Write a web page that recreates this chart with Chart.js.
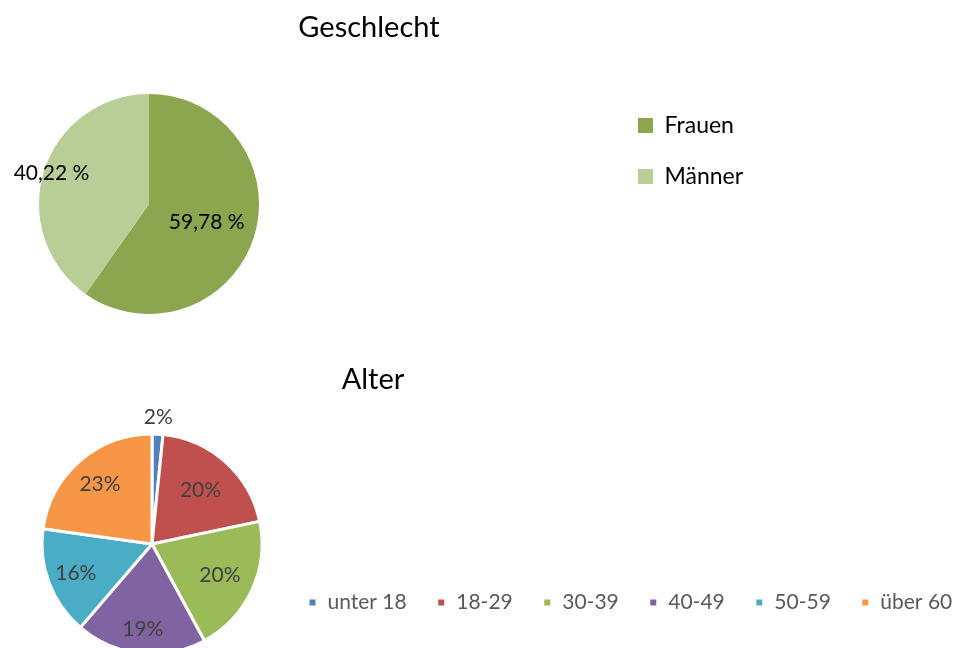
<!DOCTYPE html>
<html>
<head>
<meta charset="utf-8">
<script src="https://cdn.jsdelivr.net/npm/chart.js@4.4.1/dist/chart.umd.min.js"></script>
<style>
  body { margin: 0; background: #fff; }
  canvas { position: absolute; left: 0; }
</style>
</head>
<body>
<canvas id="geschlecht" width="961" height="340" style="top:0"></canvas>
<canvas id="alter" width="961" height="308" style="top:340px"></canvas>
<script>

// Daten
var geschlechtLabels = ['Frauen', 'Männer'];
var geschlechtWerte = [59.78, 40.22];
var geschlechtFarben = ['#8ba64f', '#b9cd96'];

var alterLabels = ['unter 18', '18-29', '30-39', '40-49', '50-59', 'über 60'];
var alterWerte = [1.6, 20.1, 20.4, 19.2, 15.9, 22.8];
var alterFarben = ['#4f81bd', '#c0504d', '#9bbb59', '#8064a2', '#4bacc6', '#f79646'];

Chart.defaults.font.family = 'Lato';
Chart.defaults.animation = false;


// setzt Titel, Legende und Kreis an feste Stellen wie im Excel-Bild
function platzierung (titel, legende, kreis, rand) {
    return {
        id: 'platzierung',
        afterLayout: function (chart) {
            var t = chart.titleBlock;
            var h = t.height;
            t.left = titel[0] - 200;
            t.right = titel[0] + 200;
            t.width = 400;
            t.top = titel[1] - h / 2;
            t.bottom = t.top + h;

            var l = chart.legend;
            var lw = l.width, lh = l.height;
            l.left = legende[0];
            l.top = legende[1];
            l.right = l.left + lw;
            l.bottom = l.top + lh;

            var r = kreis[2] + rand / 2;
            chart.chartArea = {
                left: kreis[0] - r, top: kreis[1] - r,
                right: kreis[0] + r, bottom: kreis[1] + r,
                width: 2 * r, height: 2 * r
            };
        }
    };
}


function beschriftung (abstaende, format, farbe) {
    return {
        id: 'beschriftung',
        afterDatasetsDraw: function (chart) {
            var ctx = chart.ctx;
            var meta = chart.getDatasetMeta(0);
            var werte = chart.data.datasets[0].data;
            var summe = werte.reduce(function (a, b) { return a + b; }, 0);
            ctx.save();
            ctx.font = '21px Lato';
            ctx.fillStyle = farbe;
            ctx.textAlign = 'center';
            ctx.textBaseline = 'middle';
            meta.data.forEach(function (arc, i) {
                var p = arc.getProps(['x', 'y', 'startAngle', 'endAngle', 'outerRadius'], true);
                var mitte = (p.startAngle + p.endAngle) / 2;
                var abstand = p.outerRadius * abstaende[i];
                var text;
                if (format == 'dezimal') {
                    text = werte[i].toFixed(2).replace('.', ',') + ' %';
                } else {
                    text = Math.round(werte[i] / summe * 100) + '%';
                }
                ctx.fillText(text, p.x + Math.cos(mitte) * abstand, p.y + Math.sin(mitte) * abstand);
            });
            ctx.restore();
        }
    };
}


var geschlechtChart = new Chart(document.getElementById('geschlecht'), {
    type: 'pie',
    data: {
        labels: geschlechtLabels,
        datasets: [{
            data: geschlechtWerte,
            backgroundColor: geschlechtFarben,
            borderWidth: 0,
            clip: false
        }]
    },
    options: {
        responsive: false,
        plugins: {
            tooltip: { enabled: false },
            title: {
                display: true,
                text: 'Geschlecht',
                color: '#000',
                padding: 0,
                font: { size: 29, weight: 'normal' }
            },
            legend: {
                position: 'right',
                align: 'start',
                labels: {
                    boxWidth: 15,
                    boxHeight: 15,
                    padding: 28,
                    color: '#000',
                    font: { size: 23 }
                }
            }
        }
    },
    plugins: [
        platzierung([369, 28], [610, 86], [149, 204, 110], 0),
        beschriftung([0.55, 0.93], 'dezimal', '#000')
    ]
});


var alterChart = new Chart(document.getElementById('alter'), {
    type: 'pie',
    data: {
        labels: alterLabels,
        datasets: [{
            data: alterWerte,
            backgroundColor: alterFarben,
            borderColor: '#fff',
            borderWidth: 3,
            clip: false
        }]
    },
    options: {
        responsive: false,
        plugins: {
            tooltip: { enabled: false },
            title: {
                display: true,
                text: 'Alter',
                color: '#000',
                padding: 0,
                font: { size: 29, weight: 'normal' }
            },
            legend: {
                position: 'bottom',
                align: 'start',
                labels: {
                    boxWidth: 9,
                    boxHeight: 9,
                    padding: 30,
                    color: '#595959',
                    font: { size: 21 }
                }
            }
        }
    },
    plugins: [
        platzierung([373, 40], [278, 222], [152, 204, 110], 3),
        beschriftung([1.15, 0.66, 0.68, 0.78, 0.74, 0.72], 'prozent', '#404040')
    ]
});

</script>
</body>
</html>
